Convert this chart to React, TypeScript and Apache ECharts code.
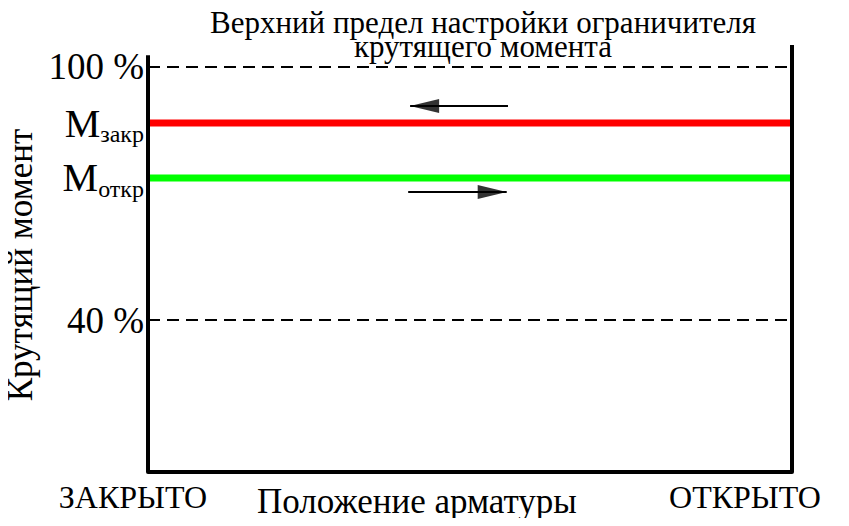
import React, { useEffect, useRef } from "react";
import * as echarts from "echarts";

// ---- data ----
const titleLines = ["Верхний предел настройки ограничителя", "крутящего момента"];
const yAxisTitle = "Крутящий момент";
const xAxisTitle = "Положение арматуры";
const xTickValues = [0, 100];
const xTickLabels = ["ЗАКРЫТО", "ОТКРЫТО"];
const yTickValues = [40, 73.7, 86.7, 100];
const yTickLabels = ["40 %", "Mоткр", "Mзакр", "100 %"];
const closeTorque = 86.7; // М закр
const openTorque = 73.7; // М откр
const limitLevels = [100, 40];
const closeArrow = [[55.9, 90.75], [40.7, 90.75]]; // tail -> tip
const openArrow = [[40.4, 70.35], [55.7, 70.35]]; // tail -> tip
const arrowHeadLength = 4.5; // in x-axis units
const xMin = 0;
const xMax = 100;
const yMin = 4;
const yMax = 105.2;
const leftAxisTop = 102.8;

const FONT = "'Liberation Serif', 'Times New Roman', serif";

export default function App() {
  const ref = useRef<HTMLDivElement>(null);
  useEffect(() => {
    if (!ref.current) return;
    const chart = echarts.init(ref.current, null, { renderer: "svg" });
    const black = "#000";
    const arrows = [closeArrow, openArrow];
    const heads = arrows.map((a) => {
      const dir = Math.sign(a[1][0] - a[0][0]);
      return {
        value: [a[1][0] - (dir * arrowHeadLength) / 2, a[1][1]],
        symbolRotate: dir > 0 ? -90 : 90,
      };
    });
    const option: any = {
      animation: false,
      backgroundColor: "#fff",
      textStyle: { fontFamily: FONT },
      title: {
        text: titleLines.join("\n"),
        left: 478,
        top: 5,
        textAlign: "center",
        textStyle: {
          fontFamily: FONT,
          fontSize: 31,
          fontWeight: "normal",
          color: black,
          lineHeight: 24,
        },
      },
      grid: { left: 148, right: 57, top: 45, bottom: 54, outerBoundsMode: "none", containLabel: false },
      xAxis: {
        type: "value",
        min: xMin,
        max: xMax,
        axisLine: { show: true, lineStyle: { color: black, width: 4 } },
        axisTick: { show: false },
        splitLine: { show: false },
        axisLabel: {
          customValues: xTickValues,
          margin: 9,
          formatter: (v: number) => {
            const i = xTickValues.indexOf(v);
            return i === 0 ? `{a|${xTickLabels[0]}}` : `{b|${xTickLabels[1]}}`;
          },
          rich: {
            a: { fontFamily: FONT, fontSize: 32, color: black, padding: [0, 30, 0, 0] },
            b: { fontFamily: FONT, fontSize: 32, color: black, padding: [0, 94, 0, 0] },
          },
        },
      },
      yAxis: {
        type: "value",
        min: yMin,
        max: yMax,
        name: yAxisTitle,
        nameLocation: "middle",
        nameGap: 101,
        nameTextStyle: { fontFamily: FONT, fontSize: 35, color: black, padding: [0, 13, 0, 0] },
        axisLine: { show: false },
        axisTick: { show: false },
        splitLine: { show: false },
        axisLabel: {
          customValues: yTickValues,
          margin: 4,
          formatter: (v: number) => {
            const i = yTickValues.indexOf(v);
            const t = yTickLabels[i];
            if (t.startsWith("M")) return `{m|М}{s|${t.slice(1)}}`;
            return `{n|${t}}`;
          },
          rich: {
            n: { fontFamily: FONT, fontSize: 37, color: black },
            m: { fontFamily: FONT, fontSize: 40, color: black, verticalAlign: "bottom" },
            s: { fontFamily: FONT, fontSize: 24, color: black, verticalAlign: "bottom", padding: [0, 0, -3, 0] },
          },
        },
      },
      graphic: [
        {
          type: "text",
          left: 257,
          top: 484,
          style: { text: xAxisTitle, fontFamily: FONT, fontSize: 35, fill: black },
        },
      ],
      series: [
        ...limitLevels.map((lv) => ({
          type: "line",
          data: [[xMin, lv], [xMax, lv]],
          symbol: "none",
          lineStyle: { color: black, width: 2, type: [12, 7] },
          z: 2,
        })),
        {
          type: "line",
          data: [[xMin, closeTorque], [xMax, closeTorque]],
          symbol: "none",
          lineStyle: { color: "#ff0000", width: 7 },
          z: 3,
        },
        {
          type: "line",
          data: [[xMin, openTorque], [xMax, openTorque]],
          symbol: "none",
          lineStyle: { color: "#00ff00", width: 7 },
          z: 3,
        },
        {
          type: "line",
          data: [[xMin, yMin], [xMin, leftAxisTop]],
          symbol: "none",
          clip: false,
          lineStyle: { color: black, width: 4 },
          z: 5,
        },
        {
          type: "line",
          data: [[xMax, yMin], [xMax, yMax]],
          symbol: "none",
          clip: false,
          lineStyle: { color: black, width: 4 },
          z: 5,
        },
        {
          type: "lines",
          coordinateSystem: "cartesian2d",
          symbol: ["none", "none"],
          lineStyle: { color: black, width: 2, opacity: 1 },
          data: arrows.map((a) => ({ coords: a })),
          z: 4,
        },
        {
          type: "scatter",
          symbol: "triangle",
          symbolSize: [14, 29],
          itemStyle: { color: black },
          data: heads,
          z: 4,
        },
      ],
    };
    chart.setOption(option);
    return () => chart.dispose();
  }, []);
  return <div ref={ref} style={{ width: 849, height: 526, margin: -8 }} />;
}
